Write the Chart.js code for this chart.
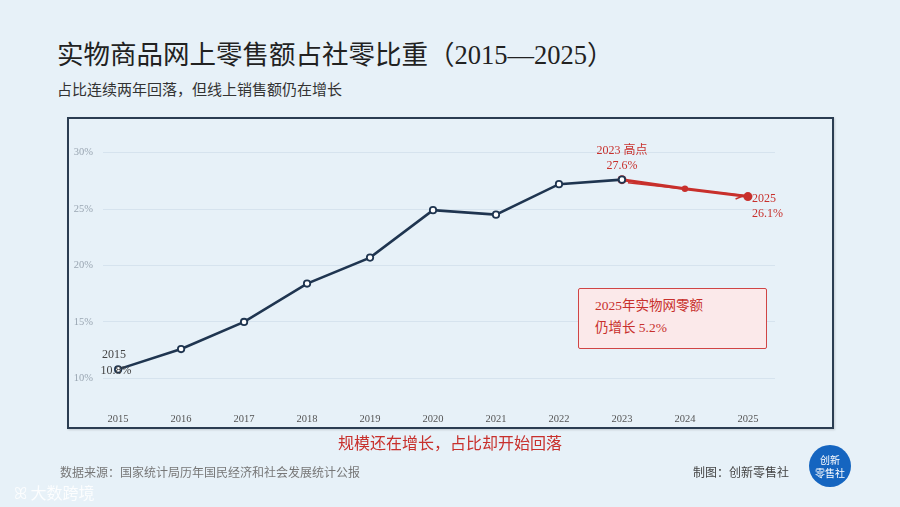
<!DOCTYPE html>
<html>
<head>
<meta charset="utf-8">
<script src="https://cdn.jsdelivr.net/npm/chart.js@4"></script>
<style>
  html, body { margin: 0; padding: 0; }
  body {
    width: 900px; height: 507px; position: relative; overflow: hidden;
    background: #e7f1f8;
    font-family: "Liberation Serif", "Noto Sans CJK SC", serif;
  }
  #chart { position: absolute; left: 0; top: 0; }
  .abs { position: absolute; white-space: nowrap; }
  .title { left: 57px; top: 33px; font-size: 26.5px; color: #222; }
  .sub { left: 57px; top: 78px; font-size: 15px; color: #333; }
  .frame { left: 67px; top: 117px; width: 763px; height: 308px; border: 2px solid #2b3d52; box-shadow: 1px 1px 2px rgba(0,0,0,0.15); }
  .note {
    left: 578px; top: 288px; width: 155px; height: 45px; padding: 6px 16px 8px 16px;
    border: 1.5px solid #d04545; background: #fbe9ea; color: #c8302c;
    font-size: 13.5px; line-height: 22px; border-radius: 2px;
  }
  .caption { left: 0; width: 900px; top: 430px; text-align: center; font-size: 16px; color: #c8302c; }
  .src { left: 60px; top: 463px; font-size: 12px; color: #777; }
  .maker { left: 693px; top: 463px; font-size: 12px; color: #444; }
  .logo {
    left: 809px; top: 445px; width: 42px; height: 42px; border-radius: 50%;
    background: #1565c0; color: #fff; font-family: "Noto Sans CJK SC", sans-serif;
    font-size: 10px; line-height: 13px; text-align: center; padding-top: 8px; box-sizing: border-box;
  }
  .mark { left: 14px; top: 480px; font-size: 16px; color: rgba(255,255,255,0.85); font-family: "Noto Sans CJK SC", sans-serif; }
</style>
</head>
<body>
<div class="abs title">实物商品网上零售额占社零比重（2015—2025）</div>
<div class="abs sub">占比连续两年回落，但线上销售额仍在增长</div>
<div class="abs frame"></div>
<canvas id="chart" width="900" height="507"></canvas>
<div class="abs note">2025年实物网零额<br>仍增长 5.2%</div>
<div class="abs caption">规模还在增长，占比却开始回落</div>
<div class="abs src">数据来源：国家统计局历年国民经济和社会发展统计公报</div>
<div class="abs maker">制图：创新零售社</div>
<div class="abs logo">创新<br>零售社</div>
<div class="abs mark">ꕤ 大数跨境</div>
<script>
// values
const years = [2015, 2016, 2017, 2018, 2019, 2020, 2021, 2022, 2023, 2024, 2025];
const share = [10.8, 12.6, 15.0, 18.4, 20.7, 24.9, 24.5, 27.2, 27.6, 26.8, 26.1];
const yTicks = [10, 15, 20, 25, 30];
const peakIndex = 8; // 2023

const NAVY = '#1f3550';
const RED = '#c8302c';
const SERIF = '"Liberation Serif", "Noto Sans CJK SC", serif';

const pts = years.map((y, i) => ({ x: y, y: share[i] }));
const risePts = pts.slice(0, peakIndex + 1);
const fallPts = pts.slice(peakIndex);

// labels next to points + the trend arrow
const labelsPlugin = {
  id: 'labels',
  afterDatasetsDraw(chart) {
    const { ctx, scales: { x, y } } = chart;
    const first = pts[0], peak = pts[peakIndex], last = pts[pts.length - 1];
    ctx.save();

    // thin arrow under the falling segment
    const ax0 = x.getPixelForValue(peak.x) + 6, ay0 = y.getPixelForValue(peak.y) + 3;
    const ax1 = x.getPixelForValue(last.x) - 4, ay1 = y.getPixelForValue(last.y) - 1;
    ctx.strokeStyle = RED;
    ctx.lineWidth = 1.5;
    ctx.beginPath();
    ctx.moveTo(ax0, ay0);
    ctx.lineTo(ax1, ay1);
    ctx.stroke();
    const ang = Math.atan2(ay1 - ay0, ax1 - ax0);
    ctx.beginPath();
    ctx.moveTo(ax1, ay1);
    ctx.lineTo(ax1 - 9 * Math.cos(ang - 0.5), ay1 - 9 * Math.sin(ang - 0.5));
    ctx.stroke();

    ctx.font = '12px ' + SERIF;
    ctx.textBaseline = 'middle';

    // 2015 start
    ctx.fillStyle = '#444';
    ctx.textAlign = 'center';
    const fx = x.getPixelForValue(first.x), fy = y.getPixelForValue(first.y);
    ctx.fillText(String(first.x), fx - 4, fy - 15);
    ctx.fillText(first.y.toFixed(1) + '%', fx - 2, fy + 1);

    // 2023 peak
    ctx.fillStyle = RED;
    const px = x.getPixelForValue(peak.x), py = y.getPixelForValue(peak.y);
    ctx.fillText(peak.x + ' 高点', px, py - 29);
    ctx.fillText(peak.y.toFixed(1) + '%', px, py - 14);

    // 2025 end
    ctx.textAlign = 'left';
    const lx = x.getPixelForValue(last.x), ly = y.getPixelForValue(last.y);
    ctx.fillText(String(last.x), lx + 4, ly + 2);
    ctx.fillText(last.y.toFixed(1) + '%', lx + 4, ly + 17);
    ctx.restore();
  }
};

new Chart(document.getElementById('chart'), {
  type: 'line',
  data: {
    datasets: [
      {
        data: risePts,
        borderColor: NAVY,
        borderWidth: 2.6,
        pointRadius: 3.2,
        pointBackgroundColor: '#ffffff',
        pointBorderColor: NAVY,
        pointBorderWidth: 1.8,
        tension: 0
      },
      {
        data: fallPts,
        borderColor: RED,
        borderWidth: 3,
        pointRadius: [4.5, 3.2, 4.5],
        pointBackgroundColor: RED,
        pointBorderColor: RED,
        pointBorderWidth: 0,
        tension: 0
      }
    ]
  },
  options: {
    responsive: false,
    animation: false,
    layout: { padding: { left: 68, right: 125, top: 139, bottom: 79 } },
    plugins: { legend: { display: false }, tooltip: { enabled: false } },
    scales: {
      x: {
        type: 'linear',
        min: 2014.76,
        max: 2025.43,
        afterBuildTicks: (s) => { s.ticks = years.map(v => ({ value: v })); },
        afterFit: (s) => { s.height = 27; },
        grid: { display: false },
        border: { display: false },
        ticks: {
          callback: (v) => String(v),
          color: '#555',
          font: { family: SERIF, size: 10.5 },
          padding: 4,
          maxRotation: 0
        }
      },
      y: {
        min: 8,
        max: 31.2,
        afterBuildTicks: (s) => { s.ticks = yTicks.map(v => ({ value: v })); },
        afterFit: (s) => { s.width = 35; },
        grid: { color: '#d6e3ee', lineWidth: 1, drawTicks: false },
        border: { display: false },
        ticks: {
          callback: (v) => v + '%',
          color: '#9aa6b2',
          font: { family: SERIF, size: 10.5 },
          padding: 10
        }
      }
    }
  },
  plugins: [labelsPlugin]
});
</script>
</body>
</html>
